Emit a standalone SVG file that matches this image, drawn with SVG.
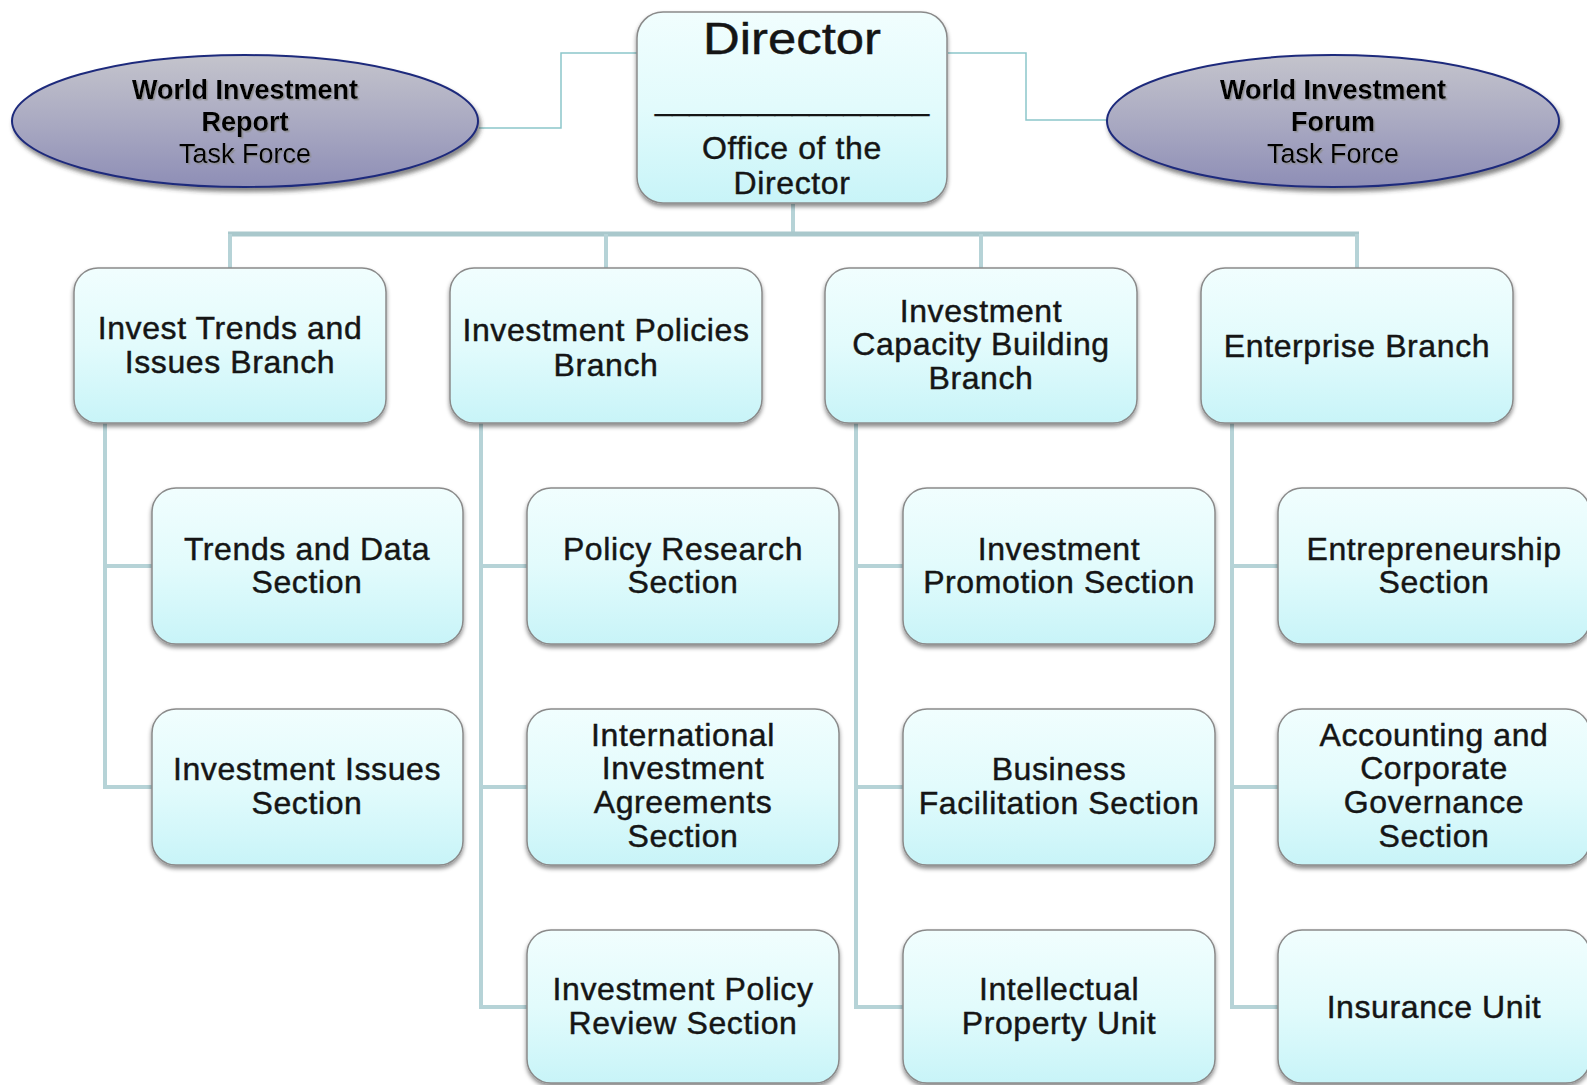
<svg xmlns="http://www.w3.org/2000/svg" width="1587" height="1085" viewBox="0 0 1587 1085">
<defs>
<linearGradient id="boxFill" x1="0" y1="0" x2="0" y2="1">
<stop offset="0" stop-color="#f1fefe"/>
<stop offset="0.5" stop-color="#e2fbfc"/>
<stop offset="1" stop-color="#c8f4f8"/>
</linearGradient>
<linearGradient id="ellFill" x1="0" y1="0" x2="0" y2="1">
<stop offset="0" stop-color="#c4c4cc"/>
<stop offset="0.5" stop-color="#aaaac2"/>
<stop offset="1" stop-color="#8e8eb6"/>
</linearGradient>
<filter id="boxShadow" x="-10%" y="-10%" width="120%" height="125%">
<feDropShadow dx="0" dy="3" stdDeviation="2.2" flood-color="#000" flood-opacity="0.45"/>
</filter>
<filter id="ellShadow" x="-10%" y="-10%" width="120%" height="130%">
<feDropShadow dx="2" dy="4" stdDeviation="2" flood-color="#333" flood-opacity="0.6"/>
</filter>
<filter id="txtShadow" x="-5%" y="-20%" width="110%" height="150%">
<feDropShadow dx="1.5" dy="1.5" stdDeviation="0.6" flood-color="#8a8a8a" flood-opacity="0.8"/>
</filter>
</defs>
<style>
.box{fill:url(#boxFill);stroke:#8a8a8a;stroke-width:1.5;filter:url(#boxShadow)}
.ell{fill:url(#ellFill);stroke:#1f2a7c;stroke-width:2;filter:url(#ellShadow)}
.t{font-family:"Liberation Sans",Arial,Helvetica,sans-serif;font-size:32px;fill:#151515;stroke:#151515;stroke-width:0.45;letter-spacing:0.6px;text-anchor:middle}
.et{font-family:"Liberation Sans",Arial,Helvetica,sans-serif;font-size:27px;fill:#000;text-anchor:middle;filter:url(#txtShadow)}
.b{font-weight:bold}
.thick{fill:none;stroke:#b6d3d7;stroke-width:4}
.bar{fill:none;stroke:#a9c8cc;stroke-width:5}
.thin{fill:none;stroke:#8cc6ca;stroke-width:1.5}
</style>
<rect width="1587" height="1085" fill="#ffffff"/>

<g id="connectors">
<polyline class="thin" points="637,53 561,53 561,128 479,128"/>
<polyline class="thin" points="948,53 1026,53 1026,120 1107,120"/>
<line class="thick" x1="793" y1="204" x2="793" y2="234"/>
<line class="bar" x1="228" y1="234" x2="1359" y2="234"/>
<line class="thick" x1="230" y1="234" x2="230" y2="268"/>
<line class="thick" x1="606" y1="234" x2="606" y2="268"/>
<line class="thick" x1="981" y1="234" x2="981" y2="268"/>
<line class="thick" x1="1357" y1="234" x2="1357" y2="268"/>
<polyline class="thick" points="152,566 105,566"/>
<polyline class="thick" points="105,423 105,787 152,787"/>
<polyline class="thick" points="527,566 481,566"/>
<polyline class="thick" points="527,787 481,787"/>
<polyline class="thick" points="481,423 481,1007 527,1007"/>
<polyline class="thick" points="903,566 856,566"/>
<polyline class="thick" points="903,787 856,787"/>
<polyline class="thick" points="856,423 856,1007 903,1007"/>
<polyline class="thick" points="1278,566 1232,566"/>
<polyline class="thick" points="1278,787 1232,787"/>
<polyline class="thick" points="1232,423 1232,1007 1278,1007"/>
</g>

<g id="wir-taskforce">
<ellipse class="ell" cx="245" cy="121" rx="233" ry="66"/>
<text class="et b" x="245" y="99">World Investment</text>
<text class="et b" x="245" y="131">Report</text>
<text class="et" x="245" y="163">Task Force</text>
</g>

<g id="wif-taskforce">
<ellipse class="ell" cx="1333" cy="121" rx="226" ry="66"/>
<text class="et b" x="1333" y="99">World Investment</text>
<text class="et b" x="1333" y="131">Forum</text>
<text class="et" x="1333" y="163">Task Force</text>
</g>

<g id="director">
<rect class="box" x="637" y="12" width="310" height="191" rx="26"/>
<text class="t" x="792" y="54" style="font-size:44px;letter-spacing:0" textLength="178" lengthAdjust="spacingAndGlyphs">Director</text>
<text class="t" x="792" y="110" style="font-size:30px;letter-spacing:0" textLength="274" lengthAdjust="spacingAndGlyphs">________________</text>
<text class="t" x="792" y="159">Office of the</text>
<text class="t" x="792" y="194">Director</text>
</g>

<g id="branch-trends">
<rect class="box" x="74" y="268" width="312" height="155" rx="24"/>
<text class="t" x="230" y="339">Invest Trends and</text>
<text class="t" x="230" y="373">Issues Branch</text>
</g>

<g id="branch-policies">
<rect class="box" x="450" y="268" width="312" height="155" rx="24"/>
<text class="t" x="606" y="341">Investment Policies</text>
<text class="t" x="606" y="376">Branch</text>
</g>

<g id="branch-capacity">
<rect class="box" x="825" y="268" width="312" height="155" rx="24"/>
<text class="t" x="981" y="322">Investment</text>
<text class="t" x="981" y="355">Capacity Building</text>
<text class="t" x="981" y="389">Branch</text>
</g>

<g id="branch-enterprise">
<rect class="box" x="1201" y="268" width="312" height="155" rx="24"/>
<text class="t" x="1357" y="357">Enterprise Branch</text>
</g>

<g id="sec-trends-data">
<rect class="box" x="152" y="488" width="311" height="156" rx="24"/>
<text class="t" x="307" y="560">Trends and Data</text>
<text class="t" x="307" y="593">Section</text>
</g>

<g id="sec-investment-issues">
<rect class="box" x="152" y="709" width="311" height="156" rx="24"/>
<text class="t" x="307" y="780">Investment Issues</text>
<text class="t" x="307" y="814">Section</text>
</g>

<g id="sec-policy-research">
<rect class="box" x="527" y="488" width="312" height="156" rx="24"/>
<text class="t" x="683" y="560">Policy Research</text>
<text class="t" x="683" y="593">Section</text>
</g>

<g id="sec-iia">
<rect class="box" x="527" y="709" width="312" height="156" rx="24"/>
<text class="t" x="683" y="746">International</text>
<text class="t" x="683" y="779">Investment</text>
<text class="t" x="683" y="813">Agreements</text>
<text class="t" x="683" y="847">Section</text>
</g>

<g id="sec-policy-review">
<rect class="box" x="527" y="930" width="312" height="153" rx="24"/>
<text class="t" x="683" y="1000">Investment Policy</text>
<text class="t" x="683" y="1034">Review Section</text>
</g>

<g id="sec-promotion">
<rect class="box" x="903" y="488" width="312" height="156" rx="24"/>
<text class="t" x="1059" y="560">Investment</text>
<text class="t" x="1059" y="593">Promotion Section</text>
</g>

<g id="sec-facilitation">
<rect class="box" x="903" y="709" width="312" height="156" rx="24"/>
<text class="t" x="1059" y="780">Business</text>
<text class="t" x="1059" y="814">Facilitation Section</text>
</g>

<g id="unit-ip">
<rect class="box" x="903" y="930" width="312" height="153" rx="24"/>
<text class="t" x="1059" y="1000">Intellectual</text>
<text class="t" x="1059" y="1034">Property Unit</text>
</g>

<g id="sec-entrepreneurship">
<rect class="box" x="1278" y="488" width="312" height="156" rx="24"/>
<text class="t" x="1434" y="560">Entrepreneurship</text>
<text class="t" x="1434" y="593">Section</text>
</g>

<g id="sec-accounting">
<rect class="box" x="1278" y="709" width="312" height="156" rx="24"/>
<text class="t" x="1434" y="746">Accounting and</text>
<text class="t" x="1434" y="779">Corporate</text>
<text class="t" x="1434" y="813">Governance</text>
<text class="t" x="1434" y="847">Section</text>
</g>

<g id="unit-insurance">
<rect class="box" x="1278" y="930" width="312" height="153" rx="24"/>
<text class="t" x="1434" y="1018">Insurance Unit</text>
</g>
</svg>
